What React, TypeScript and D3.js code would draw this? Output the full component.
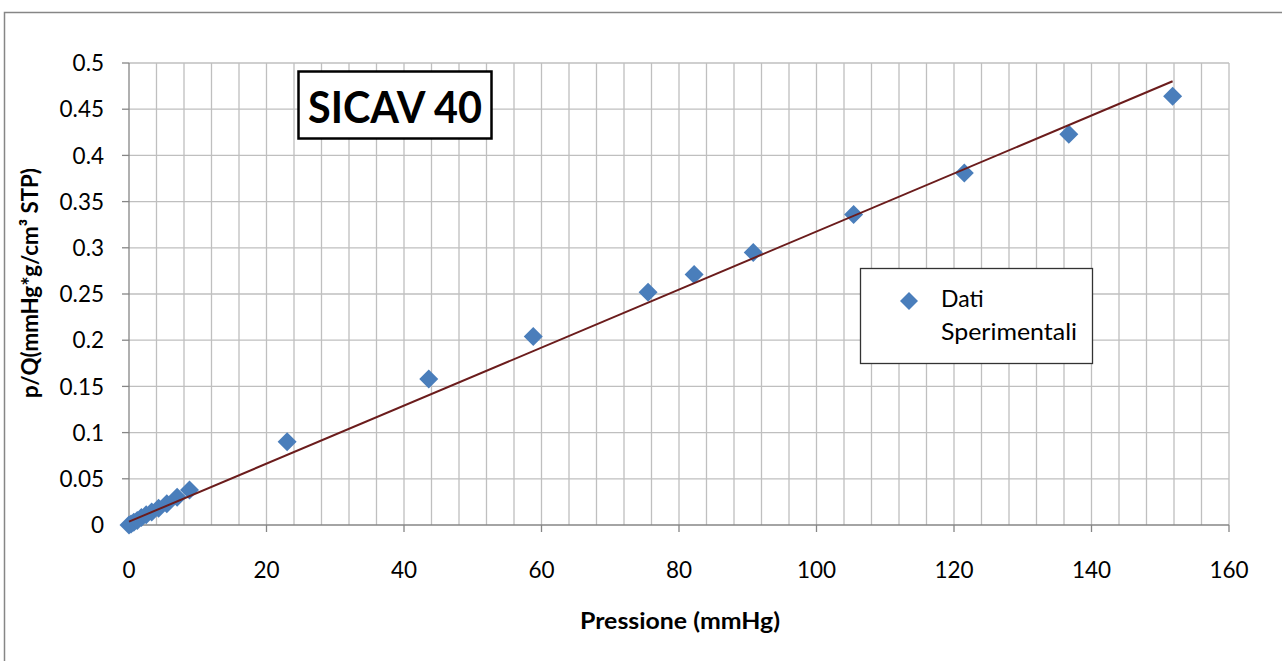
import React from "react";
import * as d3 from "d3";

const pressure = [0, 0.3, 0.7, 1.2, 1.8, 2.5, 3.3, 4.3, 5.5, 7.0, 8.8, 23.0, 43.6, 58.8, 75.5, 82.2, 90.8, 105.4, 121.5, 136.7, 151.8];
const pq = [0, 0.001, 0.003, 0.005, 0.008, 0.011, 0.014, 0.018, 0.023, 0.030, 0.038, 0.090, 0.158, 0.204, 0.252, 0.271, 0.295, 0.336, 0.381, 0.423, 0.464];
const fitSlope = 0.00314;
const fitIntercept = 0.0036;
const fitRange = [0, 151.8];
const xTicks = [0, 20, 40, 60, 80, 100, 120, 140, 160];
const yTicks = [0, 0.05, 0.1, 0.15, 0.2, 0.25, 0.3, 0.35, 0.4, 0.45, 0.5];
const xGrid = d3.range(4, 161, 4);

const FONT = "Lato, 'Open Sans', sans-serif";

export default function App() {
  const W = 1282, H = 661;
  const x = d3.scaleLinear().domain([0, 160]).range([129, 1229]);
  const y = d3.scaleLinear().domain([0, 0.5]).range([525, 63]);
  const diamond = (cx: number, cy: number, r: number) =>
    `M${cx},${cy - r}L${cx + r},${cy}L${cx},${cy + r}L${cx - r},${cy}Z`;
  const fitLine = d3.line<number>().x((p) => x(p)).y((p) => y(fitIntercept + fitSlope * p));

  return (
    <svg width={W} height={H} style={{ position: "absolute", left: 0, top: 0, background: "#fff" }} fontFamily={FONT}>
      <rect x={0} y={0} width={W} height={H} fill="#fff" />
      <rect x={4.5} y={12.5} width={1300} height={700} fill="#fff" stroke="#868686" strokeWidth={1.5} />
      {/* grid */}
      {xGrid.map((g) => (
        <line key={"vx" + g} x1={x(g)} x2={x(g)} y1={y(0)} y2={y(0.5)} stroke="#bfbfbf" strokeWidth={1.3} />
      ))}
      {yTicks.slice(1).map((t) => (
        <line key={"hy" + t} x1={x(0)} x2={x(160)} y1={y(t)} y2={y(t)} stroke="#bfbfbf" strokeWidth={1.3} />
      ))}
      {/* axes */}
      <line x1={x(0)} x2={x(0)} y1={y(0)} y2={y(0.5)} stroke="#868686" strokeWidth={1.3} />
      <line x1={x(0)} x2={x(160)} y1={y(0)} y2={y(0)} stroke="#868686" strokeWidth={1.3} />
      {yTicks.map((t) => (
        <g key={"yt" + t}>
          <line x1={x(0) - 7} x2={x(0)} y1={y(t)} y2={y(t)} stroke="#868686" strokeWidth={1.3} />
          <text x={104} y={y(t)} dy="0.36em" textAnchor="end" fontSize={22.5} fill="#000">
            {String(t)}
          </text>
        </g>
      ))}
      {xTicks.map((t) => (
        <g key={"xt" + t}>
          <line x1={x(t)} x2={x(t)} y1={y(0)} y2={y(0) + 7} stroke="#868686" strokeWidth={1.3} />
          <text x={x(t)} y={578} textAnchor="middle" fontSize={22.5} fill="#000">
            {String(t)}
          </text>
        </g>
      ))}
      {/* axis titles */}
      <text x={680} y={629} textAnchor="middle" fontSize={23} fontWeight="bold" fill="#000" textLength={200} lengthAdjust="spacingAndGlyphs">
        Pressione (mmHg)
      </text>
      <text transform="translate(38,283) rotate(-90)" textAnchor="middle" fontSize={23} fontWeight="bold" fill="#000" textLength={230} lengthAdjust="spacingAndGlyphs">
        p/Q(mmHg*g/cm³ STP)
      </text>
      {/* title box */}
      <rect x={298.5} y={71.5} width={193} height={67} fill="#fff" stroke="#000" strokeWidth={2.5} />
      <text x={395} y={123} textAnchor="middle" fontSize={44} fontWeight="bold" fill="#000" textLength={174} lengthAdjust="spacingAndGlyphs">
        SICAV 40
      </text>
      {/* legend */}
      <rect x={860.5} y={268.5} width={232} height={95} fill="#fff" stroke="#333" strokeWidth={1.3} />
      <path d={diamond(909, 301, 9)} fill="#4a7ebb" />
      <text x={941} y={307} fontSize={23} fill="#000">Dati</text>
      <text x={941} y={340} fontSize={23} fill="#000" textLength={136} lengthAdjust="spacingAndGlyphs">Sperimentali</text>
      {/* points */}
      {pressure.map((p, i) => (
        <path key={"pt" + i} d={diamond(x(p), y(pq[i]), 9.5)} fill="#4a7ebb" />
      ))}
      {/* trend line */}
      <path d={fitLine(fitRange) || ""} fill="none" stroke="#6b1c1c" strokeWidth={2} />
    </svg>
  );
}
